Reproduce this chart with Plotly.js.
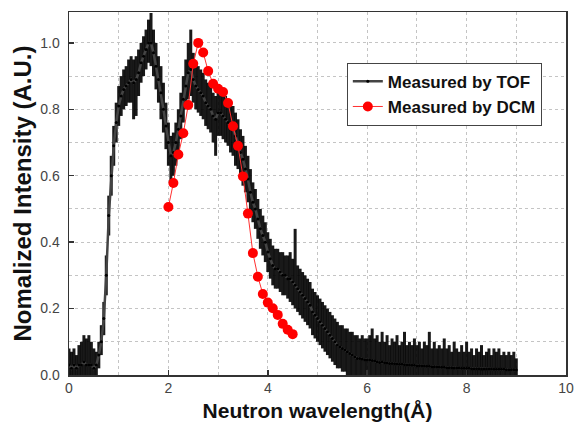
<!DOCTYPE html>
<html>
<head>
<meta charset="utf-8">
<script src="https://cdn.plot.ly/plotly-3.0.1.min.js"></script>
<style>
html,body{margin:0;padding:0;background:#fff;}
#chart{width:574px;height:434px;}
</style>
</head>
<body>
<div id="chart"></div>
<script>
// ---- Measured by TOF (sampled every 0.05 Å from 0 to 9 Å) ----
const tofStart = 0;
const tofStep = 0.05;
const tofMean = [
  0.03,0.02,0.03,0.02,0.03,0.03,0.04,0.03,0.03,0.03,
  0.02,0.03,0.06,0.10,0.17,0.30,0.48,0.60,0.69,0.76,
  0.81,0.84,0.86,0.87,0.88,0.89,0.88,0.89,0.91,0.94,
  0.96,0.98,1.00,1.00,0.97,0.93,0.89,0.85,0.80,0.75,
  0.70,0.66,0.67,0.70,0.74,0.78,0.83,0.87,0.91,0.92,
  0.89,0.87,0.86,0.85,0.84,0.82,0.81,0.80,0.78,0.77,
  0.79,0.79,0.78,0.77,0.76,0.75,0.74,0.72,0.70,0.67,
  0.65,0.62,0.59,0.55,0.52,0.50,0.47,0.44,0.42,0.40,
  0.37,0.35,0.33,0.32,0.32,0.31,0.30,0.30,0.29,0.29,
  0.28,0.27,0.26,0.25,0.24,0.23,0.22,0.21,0.19,0.18,
  0.17,0.16,0.15,0.14,0.13,0.12,0.11,0.10,0.09,0.085,
  0.08,0.075,0.07,0.065,0.06,0.055,0.05,0.05,0.048,0.046,
  0.045,0.045,0.044,0.042,0.040,0.038,0.040,0.037,0.036,0.035,
  0.035,0.034,0.033,0.032,0.032,0.031,0.030,0.030,0.029,0.029,
  0.028,0.028,0.027,0.027,0.026,0.026,0.025,0.025,0.024,0.024,
  0.023,0.023,0.022,0.022,0.022,0.021,0.021,0.021,0.020,0.020,
  0.020,0.020,0.019,0.019,0.019,0.019,0.018,0.018,0.018,0.018,
  0.018,0.017,0.017,0.017,0.017,0.017,0.016,0.016,0.016,0.016,
  0.015
];
const tofLow = [
  0,0,0,0,0,0,0,0,0,0,
  0,0,0.02,0.06,0.12,0.24,0.42,0.54,0.63,0.70,
  0.75,0.78,0.80,0.81,0.82,0.82,0.77,0.78,0.84,0.88,
  0.90,0.92,0.94,0.93,0.90,0.86,0.82,0.77,0.73,0.68,
  0.63,0.58,0.60,0.63,0.67,0.71,0.76,0.80,0.83,0.84,
  0.82,0.80,0.79,0.78,0.77,0.75,0.74,0.73,0.70,0.66,
  0.72,0.72,0.71,0.70,0.69,0.67,0.66,0.63,0.62,0.59,
  0.57,0.55,0.52,0.49,0.46,0.44,0.41,0.38,0.36,0.34,
  0.31,0.29,0.27,0.26,0.26,0.25,0.24,0.24,0.23,0.22,
  0.21,0.20,0.19,0.18,0.17,0.16,0.15,0.14,0.12,0.11,
  0.10,0.09,0.08,0.07,0.06,0.05,0.04,0.03,0.02,0.02,
  0.01,0.01,0,0,0,0,0,0,0,0,
  0,0,0,0,0,0,0,0,0,0,
  0,0,0,0,0,0,0,0,0,0,
  0,0,0,0,0,0,0,0,0,0,
  0,0,0,0,0,0,0,0,0,0,
  0,0,0,0,0,0,0,0,0,0,
  0,0,0,0,0,0,0,0,0,0,
  0
];
const tofHigh = [
  0.08,0.07,0.08,0.06,0.09,0.10,0.12,0.11,0.12,0.10,
  0.08,0.07,0.10,0.15,0.22,0.36,0.54,0.66,0.75,0.82,
  0.87,0.90,0.92,0.93,0.95,0.96,0.95,0.96,0.98,1.00,
  1.02,1.04,1.07,1.09,1.04,1.00,0.96,0.93,0.88,0.82,
  0.76,0.72,0.73,0.76,0.80,0.85,0.90,0.95,1.00,1.04,
  0.97,0.94,0.93,0.92,0.91,0.89,0.88,0.87,0.85,0.84,
  0.86,0.86,0.85,0.84,0.83,0.82,0.81,0.79,0.77,0.74,
  0.72,0.69,0.66,0.62,0.58,0.56,0.53,0.50,0.48,0.46,
  0.43,0.41,0.39,0.38,0.38,0.37,0.37,0.36,0.36,0.37,
  0.35,0.44,0.33,0.32,0.31,0.30,0.29,0.28,0.26,0.25,
  0.24,0.23,0.22,0.21,0.20,0.19,0.18,0.17,0.16,0.15,
  0.15,0.14,0.14,0.13,0.13,0.12,0.12,0.11,0.12,0.11,
  0.11,0.12,0.14,0.11,0.12,0.10,0.13,0.10,0.12,0.09,
  0.11,0.10,0.12,0.09,0.10,0.13,0.09,0.10,0.09,0.11,
  0.09,0.10,0.08,0.10,0.09,0.13,0.08,0.10,0.08,0.09,
  0.08,0.11,0.08,0.09,0.07,0.10,0.08,0.07,0.09,0.07,
  0.10,0.07,0.08,0.06,0.08,0.07,0.09,0.06,0.07,0.08,
  0.06,0.08,0.07,0.08,0.06,0.07,0.06,0.07,0.06,0.07,
  0.05
];

// ---- Measured by DCM ----
const dcmX = [2.0,2.1,2.2,2.3,2.4,2.5,2.6,2.7,2.8,2.9,3.0,3.1,3.2,3.3,3.4,3.5,3.6,3.7,3.8,3.9,4.0,4.1,4.2,4.3,4.4,4.5];
const dcmY = [0.506,0.578,0.664,0.728,0.813,0.937,1.0,0.971,0.915,0.877,0.862,0.852,0.819,0.749,0.690,0.598,0.486,0.367,0.296,0.244,0.218,0.201,0.181,0.154,0.136,0.123];

// ---- labels ----
const seriesNames = ['Measured by TOF', 'Measured by DCM'];
const xTitle = 'Neutron wavelength(Å)';
const yTitle = 'Nomalized Intensity (A.U.)';

const tofX = tofMean.map((_, i) => +(tofStart + i * tofStep).toFixed(2));
const errPlus = tofHigh.map((h, i) => Math.max(0, h - tofMean[i]));
const errMinus = tofLow.map((l, i) => Math.max(0, tofMean[i] - l));

const FONT = 'Liberation Sans, Arial, sans-serif';

const traces = [
  {
    x: tofX, y: tofMean, name: seriesNames[0], type: 'scatter', mode: 'lines+markers',
    line: {color: '#444', width: 2.5},
    marker: {color: '#000', size: 3},
    error_y: {type: 'data', symmetric: false, array: errPlus, arrayminus: errMinus,
              color: 'rgba(0,0,0,0.9)', thickness: 3, width: 0}
  },
  {
    x: dcmX, y: dcmY, name: seriesNames[1], type: 'scatter', mode: 'lines+markers',
    line: {color: '#ff3030', width: 1},
    marker: {color: '#ff0000', size: 10}
  }
];

const axisCommon = {
  showline: true, linecolor: '#333', linewidth: 1.5, mirror: true,
  ticks: 'inside', ticklen: 5, tickcolor: '#333', tickwidth: 1.5,
  showgrid: true, gridcolor: '#c4c4c4', griddash: 'dot', gridwidth: 1,
  zeroline: false,
  tickfont: {family: FONT, size: 14, color: '#444'}
};

const layout = {
  width: 574, height: 434,
  margin: {l: 68.5, r: 7.5, t: 12, b: 59},
  paper_bgcolor: '#fff', plot_bgcolor: '#fff',
  showlegend: true,
  legend: {
    x: 0.559, y: 0.86, xanchor: 'left', yanchor: 'top',
    bgcolor: '#fff', bordercolor: '#444', borderwidth: 1,
    font: {family: FONT, size: 17, color: '#111', weight: 'bold'},
    tracegroupgap: 0, itemwidth: 30
  },
  xaxis: Object.assign({}, axisCommon, {
    range: [0, 10], tick0: 0, dtick: 2,
    minor: {dtick: 1, showgrid: true, gridcolor: '#c4c4c4', griddash: 'dot', ticks: ''},
    title: {text: '<b>' + xTitle + '</b>', font: {family: FONT, size: 21, color: '#111'}, standoff: 8}
  }),
  yaxis: Object.assign({}, axisCommon, {
    range: [0, 1.093], tick0: 0, dtick: 0.2, tickformat: '.1f', ticklabelstandoff: 5,
    minor: {dtick: 0.1, showgrid: true, gridcolor: '#c4c4c4', griddash: 'dot', ticks: ''},
    title: {text: '<b>' + yTitle + '</b>', font: {family: FONT, size: 24, color: '#111'}, standoff: 2}
  })
};

Plotly.newPlot('chart', traces, layout, {displayModeBar: false, staticPlot: true});
</script>
</body>
</html>
